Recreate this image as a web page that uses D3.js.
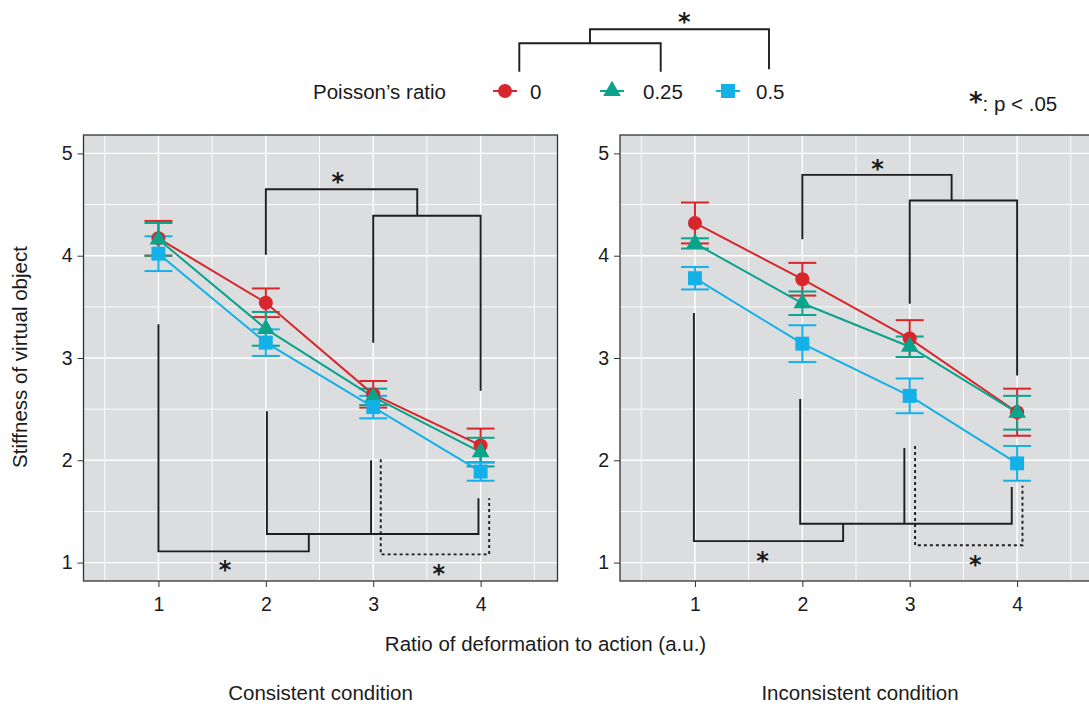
<!DOCTYPE html>
<html>
<head>
<meta charset="utf-8">
<script src="https://cdn.jsdelivr.net/npm/d3@7"></script>
<style>
  html, body { margin: 0; padding: 0; background: #ffffff; }
  svg { display: block; }
  text { font-family: "Liberation Sans", Arial, Helvetica, sans-serif; fill: #1b1b1b; }
  .star { font-family: "DejaVu Sans", sans-serif; font-weight: bold; }
</style>
</head>
<body>
<script>
// ---- data -------------------------------------------------------------
const ratios = [1, 2, 3, 4];
const seriesLabels = ["0", "0.25", "0.5"];
const seriesColors = ["#d7262c", "#0aa38c", "#14b1e9"];
const seriesShapes = ["circle", "triangle", "square"];

// Consistent condition: mean stiffness and standard error per ratio
const consMean0  = [4.17, 3.54, 2.645, 2.145];
const consSE0    = [0.17, 0.14, 0.13, 0.165];
const consMean25 = [4.16, 3.285, 2.62, 2.08];
const consSE25   = [0.16, 0.165, 0.08, 0.14];
const consMean50 = [4.02, 3.15, 2.52, 1.89];
const consSE50   = [0.17, 0.13, 0.11, 0.09];

// Inconsistent condition
const inconMean0  = [4.32, 3.77, 3.19, 2.47];
const inconSE0    = [0.20, 0.16, 0.18, 0.23];
const inconMean25 = [4.12, 3.535, 3.11, 2.465];
const inconSE25   = [0.05, 0.115, 0.10, 0.165];
const inconMean50 = [3.78, 3.14, 2.63, 1.97];
const inconSE50   = [0.11, 0.18, 0.17, 0.17];

const yTicks = [1, 2, 3, 4, 5];
const panelTitles = ["Consistent condition", "Inconsistent condition"];

// significance brackets, in data units (x = ratio, y = stiffness)
const consBrackets = [
  { pts: [[2, 4.01], [2, 4.65], [3.41, 4.65], [3.41, 4.39]] },
  { pts: [[3, 3.15], [3, 4.39], [4, 4.39], [4, 2.68]] },
  { pts: [[1, 3.33], [1, 1.11], [2.40, 1.11], [2.40, 1.28]] },
  { pts: [[2.01, 2.48], [2.01, 1.28], [3.98, 1.28], [3.98, 1.63]] },
  { pts: [[2.98, 2.00], [2.98, 1.28]] },
  { pts: [[3.07, 2.01], [3.07, 1.08], [4.08, 1.08], [4.08, 1.63]], dotted: true }
];
const consStars = [[2.67, 4.77], [1.62, 0.98], [3.61, 0.94]];

const inconBrackets = [
  { pts: [[2, 4.16], [2, 4.79], [3.39, 4.79], [3.39, 4.54]] },
  { pts: [[3, 3.53], [3, 4.54], [4, 4.54], [4, 2.83]] },
  { pts: [[0.99, 3.44], [0.99, 1.21], [2.38, 1.21], [2.38, 1.38]] },
  { pts: [[1.98, 2.60], [1.98, 1.38], [3.95, 1.38], [3.95, 1.74]] },
  { pts: [[2.95, 2.12], [2.95, 1.38]] },
  { pts: [[3.05, 2.14], [3.05, 1.17], [4.05, 1.17], [4.05, 1.75]], dotted: true }
];
const inconStars = [[2.70, 4.90], [1.63, 1.07], [3.61, 1.03]];

const panels = [
  { title: panelTitles[0], means: [consMean0, consMean25, consMean50], ses: [consSE0, consSE25, consSE50],
    brackets: consBrackets, stars: consStars },
  { title: panelTitles[1], means: [inconMean0, inconMean25, inconMean50], ses: [inconSE0, inconSE25, inconSE50],
    brackets: inconBrackets, stars: inconStars }
];

// ---- layout -----------------------------------------------------------
const W = 1089, H = 707;
const panelLeft = [83.5, 620];
const panelW = 474, panelTop = 135, panelBottom = 581;
const ink = "#1e1e1e";

const svg = d3.select("body").append("svg").attr("width", W).attr("height", H);

const y = d3.scaleLinear().domain([0.82, 5.18]).range([panelBottom, panelTop]);

function symbolPath(shape) {
  if (shape === "circle") return d3.symbol(d3.symbolCircle, 155)();
  if (shape === "triangle") return d3.symbol(d3.symbolTriangle, 135)();
  return d3.symbol(d3.symbolSquare, 195)();
}

function starText(g, x, yc, size) {
  // an asterisk glyph sits high in its em box; shift so its centre lands on yc
  g.append("text").attr("class", "star")
    .attr("x", x).attr("y", yc + size * 0.56)
    .attr("text-anchor", "middle").attr("font-size", size)
    .text("*");
}

panels.forEach((p, pi) => {
  const x = d3.scaleLinear().domain([0.302, 4.716]).range([panelLeft[pi], panelLeft[pi] + panelW]);
  const g = svg.append("g");

  // panel background
  g.append("rect").attr("x", x.range()[0]).attr("y", panelTop)
    .attr("width", panelW).attr("height", panelBottom - panelTop).attr("fill", "#dcdddf");

  // minor + major grid
  const xMinor = [0.5, 1.5, 2.5, 3.5, 4.5], yMinor = [1.5, 2.5, 3.5, 4.5];
  g.selectAll(".gxm").data(xMinor).join("line")
    .attr("x1", d => x(d)).attr("x2", d => x(d)).attr("y1", panelTop).attr("y2", panelBottom)
    .attr("stroke", "#ffffff").attr("stroke-width", 0.9);
  g.selectAll(".gym").data(yMinor).join("line")
    .attr("y1", d => y(d)).attr("y2", d => y(d)).attr("x1", x.range()[0]).attr("x2", x.range()[1])
    .attr("stroke", "#ffffff").attr("stroke-width", 0.9);
  g.selectAll(".gx").data(ratios).join("line")
    .attr("x1", d => x(d)).attr("x2", d => x(d)).attr("y1", panelTop).attr("y2", panelBottom)
    .attr("stroke", "#ffffff").attr("stroke-width", 1.4);
  g.selectAll(".gy").data(yTicks).join("line")
    .attr("y1", d => y(d)).attr("y2", d => y(d)).attr("x1", x.range()[0]).attr("x2", x.range()[1])
    .attr("stroke", "#ffffff").attr("stroke-width", 1.4);

  // axes
  const yAxis = d3.axisLeft(y).tickValues(yTicks).tickSize(6).tickPadding(5).tickFormat(d3.format("d"));
  const ya = g.append("g").attr("transform", `translate(${x.range()[0]},0)`).call(yAxis);
  const xAxis = d3.axisBottom(x).tickValues(ratios).tickSize(6).tickPadding(10).tickFormat(d3.format("d"));
  const xa = g.append("g").attr("transform", `translate(0,${panelBottom})`).call(xAxis);
  [ya, xa].forEach(a => {
    a.select(".domain").remove();
    a.selectAll(".tick line").attr("stroke", "#333").attr("stroke-width", 1);
    a.selectAll(".tick text").attr("font-size", 19.5).attr("fill", "#1b1b1b")
      .attr("font-family", "'Liberation Sans', Arial, sans-serif");
  });

  // significance brackets (behind the data)
  const line = d3.line().x(d => x(d[0])).y(d => y(d[1]));
  g.selectAll(".br").data(p.brackets).join("path")
    .attr("d", d => line(d.pts)).attr("fill", "none").attr("stroke", ink)
    .attr("stroke-width", 1.9)
    .attr("stroke-dasharray", d => d.dotted ? "3,3" : null);
  p.stars.forEach(s => starText(g, x(s[0]), y(s[1]), 24));

  // error bars
  const capHalf = 0.13;
  p.means.forEach((m, si) => {
    const se = p.ses[si];
    const eg = g.append("g").attr("stroke", seriesColors[si]).attr("stroke-width", 2).attr("fill", "none");
    ratios.forEach((r, i) => {
      eg.append("line").attr("x1", x(r)).attr("x2", x(r)).attr("y1", y(m[i] - se[i])).attr("y2", y(m[i] + se[i]));
      eg.append("line").attr("x1", x(r - capHalf)).attr("x2", x(r + capHalf)).attr("y1", y(m[i] + se[i])).attr("y2", y(m[i] + se[i]));
      eg.append("line").attr("x1", x(r - capHalf)).attr("x2", x(r + capHalf)).attr("y1", y(m[i] - se[i])).attr("y2", y(m[i] - se[i]));
    });
  });

  // mean lines
  p.means.forEach((m, si) => {
    g.append("path").datum(ratios.map((r, i) => [r, m[i]]))
      .attr("d", line).attr("fill", "none").attr("stroke", seriesColors[si]).attr("stroke-width", 2);
  });

  // points
  p.means.forEach((m, si) => {
    g.selectAll(null).data(ratios.map((r, i) => [r, m[i]])).join("path")
      .attr("transform", d => `translate(${x(d[0])},${y(d[1])})`)
      .attr("d", symbolPath(seriesShapes[si])).attr("fill", seriesColors[si]);
  });

  // panel border
  g.append("rect").attr("x", x.range()[0]).attr("y", panelTop)
    .attr("width", panelW).attr("height", panelBottom - panelTop)
    .attr("fill", "none").attr("stroke", "#333").attr("stroke-width", 1.3);

  // condition caption
  svg.append("text").attr("x", pi === 0 ? 320.5 : 860).attr("y", 700)
    .attr("text-anchor", "middle").attr("font-size", 20.5).text(p.title);
});

// axis titles
svg.append("text").attr("x", 545.5).attr("y", 651).attr("text-anchor", "middle")
  .attr("font-size", 20.5).text("Ratio of deformation to action (a.u.)");
svg.append("text").attr("transform", "translate(27,357) rotate(-90)").attr("text-anchor", "middle")
  .attr("font-size", 20.5).text("Stiffness of virtual object");

// ---- legend -----------------------------------------------------------
const legendY = 91;
const legendKeyX = [505, 612, 728];
const legendTextX = [530, 643, 756];
svg.append("text").attr("x", 313).attr("y", legendY + 8).attr("font-size", 20.5).text("Poisson\u2019s ratio");
seriesLabels.forEach((lab, si) => {
  svg.append("line").attr("x1", legendKeyX[si] - 12).attr("x2", legendKeyX[si] + 12)
    .attr("y1", legendY).attr("y2", legendY).attr("stroke", seriesColors[si]).attr("stroke-width", 2);
  svg.append("path").attr("transform", `translate(${legendKeyX[si]},${legendY})`)
    .attr("d", symbolPath(seriesShapes[si])).attr("fill", seriesColors[si]);
  svg.append("text").attr("x", legendTextX[si]).attr("y", legendY + 8).attr("font-size", 20.5).text(lab);
});

// grouping of Poisson's ratio levels above the legend
const legendTree = [
  [[519.3, 71.7], [519.3, 43.3], [660.7, 43.3], [660.7, 71.7]],
  [[590, 43.3], [590, 29.3], [769, 29.3], [769, 69.3]]
];
svg.selectAll(".tree").data(legendTree).join("path")
  .attr("d", d3.line()).attr("fill", "none").attr("stroke", ink).attr("stroke-width", 1.9);
starText(svg, 684.3, 17, 24);

// significance key
const key = svg.append("text").attr("x", 969).attr("y", 111).attr("font-size", 20.5);
key.append("tspan").attr("class", "star").attr("font-size", 26).text("*");
key.append("tspan").text(": p < .05");
</script>
</body>
</html>
